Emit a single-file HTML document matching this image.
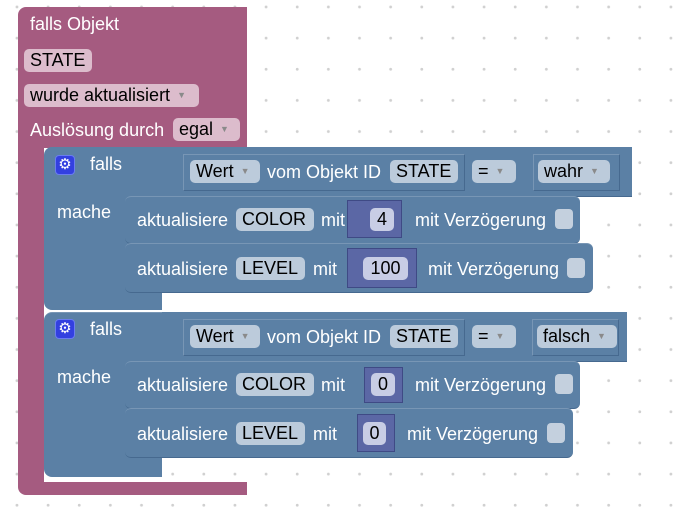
<!DOCTYPE html>
<html><head><meta charset="utf-8"><style>
*{box-sizing:border-box;margin:0;padding:0}
body{width:697px;height:508px;overflow:hidden;background:#fff;position:relative;font-family:"Liberation Sans",sans-serif;font-size:18px;
background-image:radial-gradient(circle,#d0d0d0 1.3px,transparent 1.6px);background-size:31.15px 31.15px;background-position:1.4px -8.6px}
.a{position:absolute}
.pk{background:#a55b80}
.bl{background:#5b80a5}
.t{position:absolute;color:#fff;white-space:nowrap;line-height:18px}
.f{position:absolute;border-radius:5px;color:#000;white-space:nowrap;line-height:23px;height:23px;padding-left:6px}
.fp{background:#dcbccc}
.fb{background:#bccbdb}
.fn{background:#c8cde5;text-align:center;padding:0}
.ar{color:#8a8a8a;font-size:9px;vertical-align:3px;margin-left:7px}
.ol{position:absolute;border:1px solid #46698f;border-top-color:#7896b5;border-left-color:#7896b5}
.st{position:absolute;background:#5b80a5;border-radius:6px;border-top:1px solid #7896b5;border-bottom:1px solid #46698f}
.nb{position:absolute;background:#5b67a5;border:1px solid #3f4a85}
.cb{position:absolute;background:#c4d0de;border-radius:4px;width:18px;height:20px}
.g{position:absolute;width:20px;height:20px;background:#3340e0;border:1px solid #6a7cf0;border-radius:4px;color:#fff;font-size:15px;line-height:18px;text-align:center}
</style></head><body>
<div class="a pk" style="left:18px;top:7px;width:229px;height:141px;border-radius:8px 0 0 0"></div>
<div class="a pk" style="left:18px;top:140px;width:26px;height:355px;border-radius:0 0 0 10px"></div>
<div class="a pk" style="left:18px;top:482px;width:229px;height:13px;border-radius:0 0 0 8px"></div>
<div class="t" style="left:30px;top:15px">falls Objekt</div>
<div class="f fp" style="left:24px;top:49px;width:68px">STATE</div>
<div class="f fp" style="left:24px;top:84px;width:175px">wurde aktualisiert<span class="ar">▼</span></div>
<div class="t" style="left:30px;top:121px">Auslösung durch</div>
<div class="f fp" style="left:173px;top:118px;width:67px">egal<span class="ar">▼</span></div>

<div class="a bl" style="left:44px;top:147px;width:118px;height:163px;border-radius:8px 0 0 8px"></div>
<div class="a bl" style="left:162px;top:147px;width:470px;height:50px;border-bottom:1px solid #46698f"></div>
<div class="g" style="left:55px;top:155px">⚙</div>
<div class="t" style="left:90px;top:155px">falls</div>
<div class="t" style="left:57px;top:203px">mache</div>
<div class="ol" style="left:183px;top:154px;width:282px;height:37px"></div>
<div class="f fb" style="left:190px;top:160px;width:70px">Wert<span class="ar">▼</span></div>
<div class="t" style="left:267px;top:163px">vom Objekt ID</div>
<div class="f fb" style="left:390px;top:160px;width:68px">STATE</div>
<div class="f fb" style="left:472px;top:160px;width:44px">=<span class="ar">▼</span></div>
<div class="ol" style="left:533px;top:154px;width:87px;height:37px"></div>
<div class="f fb" style="left:538px;top:160px;width:72px">wahr<span class="ar">▼</span></div>
<div class="st" style="left:125px;top:196px;width:455px;height:48px"></div>
<div class="t" style="left:137px;top:211px">aktualisiere</div>
<div class="f fb" style="left:236px;top:208px;width:78px">COLOR</div>
<div class="t" style="left:321px;top:211px">mit</div>
<div class="nb" style="left:347px;top:200px;width:55px;height:38px"></div>
<div class="f fn" style="left:370px;top:208px;width:24px">4</div>
<div class="t" style="left:415px;top:211px">mit Verzögerung</div>
<div class="cb" style="left:555px;top:209px"></div>
<div class="st" style="left:125px;top:243px;width:468px;height:50px"></div>
<div class="t" style="left:137px;top:260px">aktualisiere</div>
<div class="f fb" style="left:236px;top:257px;width:69px">LEVEL</div>
<div class="t" style="left:313px;top:260px">mit</div>
<div class="nb" style="left:347px;top:248px;width:70px;height:40px"></div>
<div class="f fn" style="left:363px;top:257px;width:45px">100</div>
<div class="t" style="left:428px;top:260px">mit Verzögerung</div>
<div class="cb" style="left:567px;top:258px"></div>

<div class="a bl" style="left:44px;top:312px;width:118px;height:165px;border-radius:8px 0 0 8px;border-top:1px solid #7896b5"></div>
<div class="a bl" style="left:162px;top:312px;width:465px;height:50px;border-bottom:1px solid #46698f"></div>
<div class="g" style="left:55px;top:319px">⚙</div>
<div class="t" style="left:90px;top:320px">falls</div>
<div class="t" style="left:57px;top:368px">mache</div>
<div class="ol" style="left:183px;top:319px;width:282px;height:37px"></div>
<div class="f fb" style="left:190px;top:325px;width:70px">Wert<span class="ar">▼</span></div>
<div class="t" style="left:267px;top:328px">vom Objekt ID</div>
<div class="f fb" style="left:390px;top:325px;width:68px">STATE</div>
<div class="f fb" style="left:472px;top:325px;width:44px">=<span class="ar">▼</span></div>
<div class="ol" style="left:532px;top:319px;width:87px;height:37px"></div>
<div class="f fb" style="left:537px;top:325px;width:80px">falsch<span class="ar">▼</span></div>
<div class="st" style="left:125px;top:361px;width:455px;height:48px"></div>
<div class="t" style="left:137px;top:376px">aktualisiere</div>
<div class="f fb" style="left:236px;top:373px;width:78px">COLOR</div>
<div class="t" style="left:321px;top:376px">mit</div>
<div class="nb" style="left:364px;top:367px;width:39px;height:36px"></div>
<div class="f fn" style="left:371px;top:373px;width:24px">0</div>
<div class="t" style="left:415px;top:376px">mit Verzögerung</div>
<div class="cb" style="left:555px;top:374px"></div>
<div class="st" style="left:125px;top:408px;width:448px;height:50px"></div>
<div class="t" style="left:137px;top:425px">aktualisiere</div>
<div class="f fb" style="left:236px;top:422px;width:69px">LEVEL</div>
<div class="t" style="left:313px;top:425px">mit</div>
<div class="nb" style="left:357px;top:414px;width:38px;height:38px"></div>
<div class="f fn" style="left:363px;top:422px;width:23px">0</div>
<div class="t" style="left:407px;top:425px">mit Verzögerung</div>
<div class="cb" style="left:547px;top:423px"></div>
</body></html>
